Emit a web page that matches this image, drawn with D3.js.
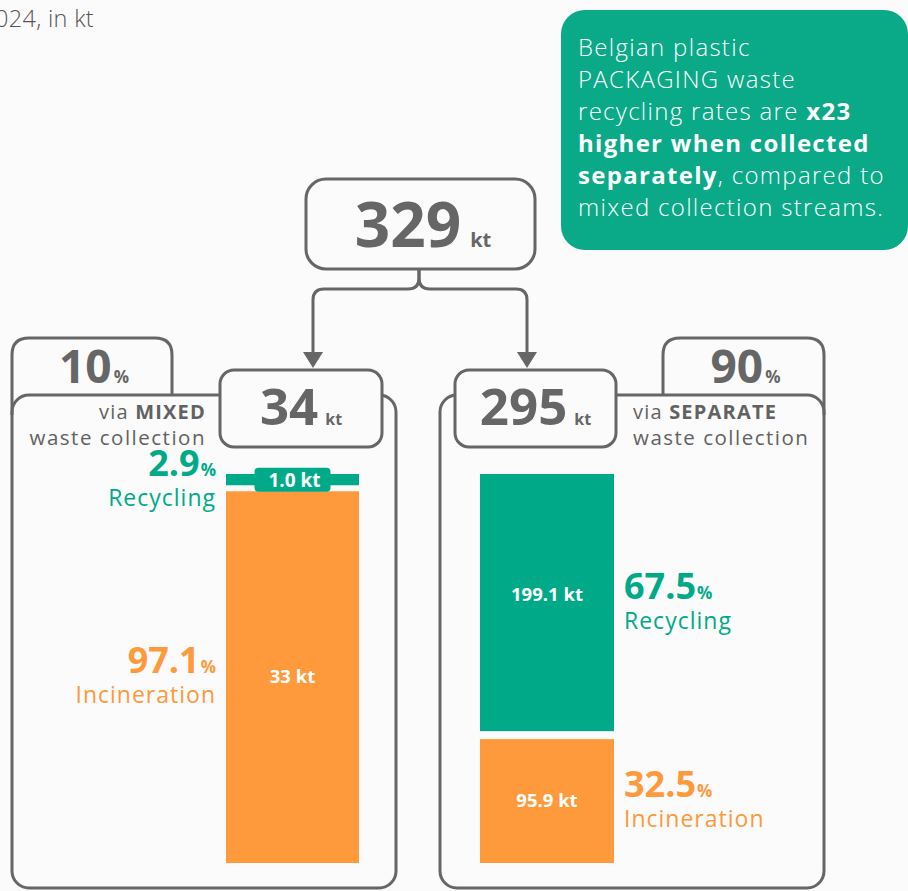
<!DOCTYPE html>
<html><head><meta charset="utf-8">
<script src="https://cdn.jsdelivr.net/npm/d3@7"></script>
<style>
html,body{margin:0;padding:0;background:#fbfbfb;}
svg{display:block;font-family:"Open Sans",sans-serif;}
</style></head>
<body><div id="chart"></div>
<script>
// ---- data ----
const totalKt = 329;
const streams = ["MIXED", "SEPARATE"];
const streamShare = [10, 90];
const streamKt = [34, 295];
const recyclingKt = [1.0, 199.1];
const incinerationKt = [33, 95.9];
const recyclingPct = [2.9, 67.5];
const incinerationPct = [97.1, 32.5];
const recyclingLabels = ["1.0 kt", "199.1 kt"];
const incinerationLabels = ["33 kt", "95.9 kt"];
const titleText = "2024, in kt";
const calloutLines = [
  [["Belgian plastic", 300]],
  [["PACKAGING waste", 300]],
  [["recycling rates are ", 300], ["x23", 700]],
  [["higher when collected", 700]],
  [["separately", 700], [", compared to", 300]],
  [["mixed collection streams.", 300]]
];

// ---- style ----
const W = 908, H = 891;
const GREEN = "#00aa88", CALLOUT = "#0aa987", ORANGE = "#fe993c", GRAY = "#666666", TXT = "#626262", BG = "#fbfbfb";

const svg = d3.select("#chart").append("svg").attr("width", W).attr("height", H);
svg.append("rect").attr("width", W).attr("height", H).attr("fill", BG);

// title (cut at left edge, as in the original)
svg.append("text").attr("x", 94).attr("y", 27).attr("text-anchor", "end")
  .attr("font-size", 23.5).attr("font-weight", 300).attr("letter-spacing", 0.3).attr("fill", "#555").text(titleText);

// callout
svg.append("rect").attr("x", 561).attr("y", 10).attr("width", 347).attr("height", 240)
  .attr("rx", 24).attr("fill", CALLOUT);
const ct = svg.append("text").attr("font-size", 24).attr("letter-spacing", 1.3).attr("fill", "#fff");
calloutLines.forEach((line, i) => {
  line.forEach((seg, j) => {
    const ts = ct.append("tspan").attr("font-weight", seg[1]).text(seg[0]);
    if (j === 0) ts.attr("x", 578).attr("y", 56 + i * 32);
  });
});

// panels
const stroke = s => s.attr("fill", "none").attr("stroke", GRAY).attr("stroke-width", 3);
const panels = [
  {px: 12, pw: 384, tabX0: 12, tabX1: 172, boxX: 220, boxW: 162, barX: 226, barW: 133, arrowX: 313, side: "left"},
  {px: 440, pw: 384, tabX0: 663, tabX1: 824, boxX: 455, boxW: 161, barX: 480, barW: 134, arrowX: 527, side: "right"}
];
const panelTop = 395, panelBottom = 888, tabTop = 338;
const barTop = 474, barBottom = 863;

panels.forEach((p, i) => {
  const r = 17;
  const yL = p.side === "left" ? panelTop + 20 : panelTop;
  const yR = p.side === "left" ? panelTop : panelTop + 20;
  // tab outline (open at bottom)
  stroke(svg.append("path").attr("d",
    `M${p.tabX0},${yL} V${tabTop + r} Q${p.tabX0},${tabTop} ${p.tabX0 + r},${tabTop} H${p.tabX1 - r} Q${p.tabX1},${tabTop} ${p.tabX1},${tabTop + r} V${yR}`));
  // panel
  stroke(svg.append("rect").attr("x", p.px).attr("y", panelTop).attr("width", p.pw)
    .attr("height", panelBottom - panelTop).attr("rx", r));
  // share text in tab
  const tc = (p.tabX0 + p.tabX1) / 2;
  const sh = svg.append("text").attr("x", tc + 2).attr("y", 383).attr("text-anchor", "middle")
    .attr("fill", GRAY).attr("font-weight", 700).attr("font-size", 46);
  sh.append("tspan").text(streamShare[i]);
  sh.append("tspan").attr("font-size", 17).attr("dx", 2).text("%");

  // kt box
  svg.append("rect").attr("x", p.boxX).attr("y", 370).attr("width", p.boxW).attr("height", 77)
    .attr("rx", 14).attr("fill", BG).attr("stroke", GRAY).attr("stroke-width", 3);
  const bt = svg.append("text").attr("x", p.boxX + p.boxW / 2).attr("y", 425).attr("text-anchor", "middle")
    .attr("fill", GRAY).attr("font-weight", 700).attr("font-size", 51);
  bt.append("tspan").text(streamKt[i]);
  bt.append("tspan").attr("font-size", 16).attr("dx", 7).text("kt");

  // "via ... waste collection"
  const vx = p.side === "left" ? 206 : 633;
  const anchor = p.side === "left" ? "end" : "start";
  const vt = svg.append("text").attr("x", vx).attr("y", 419).attr("text-anchor", anchor)
    .attr("fill", TXT).attr("font-size", 20).attr("letter-spacing", 1.2);
  vt.append("tspan").text("via ");
  vt.append("tspan").attr("font-weight", 700).text(streams[i]);
  svg.append("text").attr("x", vx).attr("y", 445).attr("text-anchor", anchor)
    .attr("fill", TXT).attr("font-size", 20.5).attr("letter-spacing", 1.5).text("waste collection");

  // bars
  const gap = i === 0 ? 6 : 8;
  const y = d3.scaleLinear().domain([0, recyclingKt[i] + incinerationKt[i]])
    .range([0, barBottom - barTop - gap]);
  const gH = y(recyclingKt[i]);
  const oY = barTop + gH + gap;
  const oH = y(incinerationKt[i]);
  svg.append("rect").attr("x", p.barX).attr("y", barTop).attr("width", p.barW).attr("height", gH).attr("fill", GREEN);
  svg.append("rect").attr("x", p.barX).attr("y", oY).attr("width", p.barW).attr("height", oH).attr("fill", ORANGE);
  const cx = p.barX + p.barW / 2;
  const gC = barTop + gH / 2, oC = oY + oH / 2;

  // in-bar labels
  if (gH < 30) {
    svg.append("rect").attr("x", cx - 38).attr("y", gC - 12).attr("width", 76).attr("height", 24)
      .attr("rx", 4).attr("fill", GREEN);
    svg.append("text").attr("x", cx + 2).attr("y", gC + 7).attr("text-anchor", "middle")
      .attr("fill", "#fff").attr("font-weight", 700).attr("font-size", 19).text(recyclingLabels[i]);
  } else {
    svg.append("text").attr("x", cx).attr("y", gC - 2).attr("text-anchor", "middle")
      .attr("fill", "#fff").attr("font-weight", 700).attr("font-size", 18.5).text(recyclingLabels[i]);
  }
  svg.append("text").attr("x", cx).attr("y", oC + 6).attr("text-anchor", "middle")
    .attr("fill", "#fff").attr("font-weight", 700).attr("font-size", 18.5).text(incinerationLabels[i]);

  // side labels
  const lx = p.side === "left" ? 216 : 624;
  const addSide = (c, pct, name, color) => {
    const t = svg.append("text").attr("x", lx).attr("y", c - 4).attr("text-anchor", anchor)
      .attr("fill", color).attr("font-weight", 700).attr("font-size", 36);
    t.append("tspan").text(pct);
    t.append("tspan").attr("font-size", 17).attr("dx", 1).text("%");
    svg.append("text").attr("x", lx).attr("y", c + 26).attr("text-anchor", anchor)
      .attr("fill", color).attr("font-size", 23).attr("letter-spacing", 1).text(name);
  };
  addSide(gC, recyclingPct[i], "Recycling", GREEN);
  addSide(oC, incinerationPct[i], "Incineration", ORANGE);
});

// total box
svg.append("rect").attr("x", 306).attr("y", 179).attr("width", 229).attr("height", 90)
  .attr("rx", 20).attr("fill", BG).attr("stroke", GRAY).attr("stroke-width", 3);
const tt = svg.append("text").attr("x", 423).attr("y", 247).attr("text-anchor", "middle")
  .attr("fill", GRAY).attr("font-weight", 700).attr("font-size", 62);
tt.append("tspan").text(totalKt);
tt.append("tspan").attr("font-size", 20).attr("dx", 9).text("kt");

// connectors
const cxm = 419, hY = 289, rc = 11;
panels.forEach(p => {
  const dir = p.arrowX < cxm ? -1 : 1;
  stroke(svg.append("path").attr("d",
    `M${cxm},269 V${hY - rc} Q${cxm},${hY} ${cxm + dir * rc},${hY} H${p.arrowX - dir * rc} Q${p.arrowX},${hY} ${p.arrowX},${hY + rc} V356`));
  svg.append("path").attr("d", `M${p.arrowX - 10},352 L${p.arrowX + 10},352 L${p.arrowX},368 Z`).attr("fill", GRAY);
});
</script></body></html>
